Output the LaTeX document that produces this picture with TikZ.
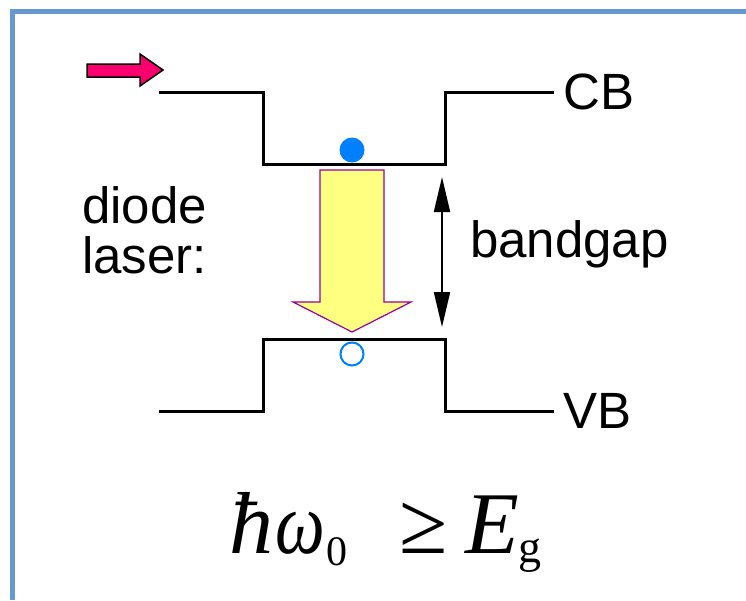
\documentclass[tikz,border=0pt]{standalone}
\usepackage{fontspec}
\setmainfont{Liberation Sans}
\newfontfamily\eqfont{Liberation Serif}
\usetikzlibrary{arrows.meta}

\definecolor{cornice}{RGB}{102,153,204}
\definecolor{rosa}{RGB}{250,0,110}
\definecolor{giallo}{RGB}{255,255,128}
\definecolor{viola}{RGB}{153,0,153}
\definecolor{blu}{RGB}{0,128,255}

\begin{document}
\begin{tikzpicture}[x=1pt,y=-1pt,
    livello/.style={line width=3pt, line join=miter},
    etichetta/.style={font=\fontsize{51}{50}\selectfont, inner sep=0pt},
    punta/.tip={Triangle[length=35pt,width=16pt]}]

    % Quote delle bande (in pixel, asse y verso il basso)
    \def\yCB{92}  \def\yCBb{164}
    \def\yVB{411} \def\yVBa{339}
    \def\xL{263}  \def\xR{445}

    \useasboundingbox (0,0) rectangle (746,600);

    % Cornice azzurra
    \draw[cornice, line width=5pt] (12,600) -- (12,11) -- (746,11);

    % Banda di conduzione e banda di valenza
    \draw[livello] (159,\yCB) -- (\xL,\yCB) -- (\xL,\yCBb) -- (\xR,\yCBb) -- (\xR,\yCB) -- (554,\yCB) coordinate (CBfine);
    \draw[livello] (159,\yVB) -- (\xL,\yVB) -- (\xL,\yVBa) -- (\xR,\yVBa) -- (\xR,\yVB) -- (554,\yVB) coordinate (VBfine);

    \node[etichetta, anchor=west] (CB) at (563,\yCB) {CB};
    \node[etichetta, anchor=west] (VB) at (563,\yVB) {VB};

    % Freccia di iniezione
    \filldraw[fill=rosa, draw=black, line width=1.5pt, line join=miter]
        (87,64) -- (140,64) -- (140,54) -- (163,70) -- (140,86) -- (140,77) -- (87,77) -- cycle;

    % Elettrone e lacuna
    \node[circle, fill=blu, minimum size=25pt, inner sep=0pt] (elettrone) at (352,150) {};
    \node[circle, draw=blu, line width=2pt, fill=white, minimum size=23pt, inner sep=0pt] (lacuna) at (352,354) {};

    % Ricombinazione (freccia gialla)
    \filldraw[fill=giallo, draw=viola, line width=1.2pt, line join=miter]
        (320,170) -- (384,170) -- (384,302) -- (411,302) -- (352,332) -- (293,302) -- (320,302) -- cycle;

    % Bandgap
    \coordinate (gapSu) at (442,177);
    \coordinate (gapGiu) at (442,327);
    \draw[punta-punta, line width=2pt] (gapSu) -- (gapGiu);
    \node[etichetta, anchor=base west] (bandgap) at (470,257) {bandgap};

    \node[etichetta, anchor=north west, align=left] (diodo) at (82,186) {diode\\laser:};

    % Condizione di emissione
    \node[inner sep=0pt, anchor=base west, font=\eqfont\fontsize{88}{88}\selectfont] (condizione) at (229,553)
        {\itshape ħ\hspace{2pt}\scalebox{0.8}[1]{ω}\hspace{2pt}\raisebox{-12pt}{\upshape\fontsize{42}{42}\selectfont 0}\hspace{52pt}\upshape ≥\hspace{17pt}\itshape E\raisebox{-9pt}{\upshape\fontsize{46}{46}\selectfont g}};

\end{tikzpicture}
\end{document}
